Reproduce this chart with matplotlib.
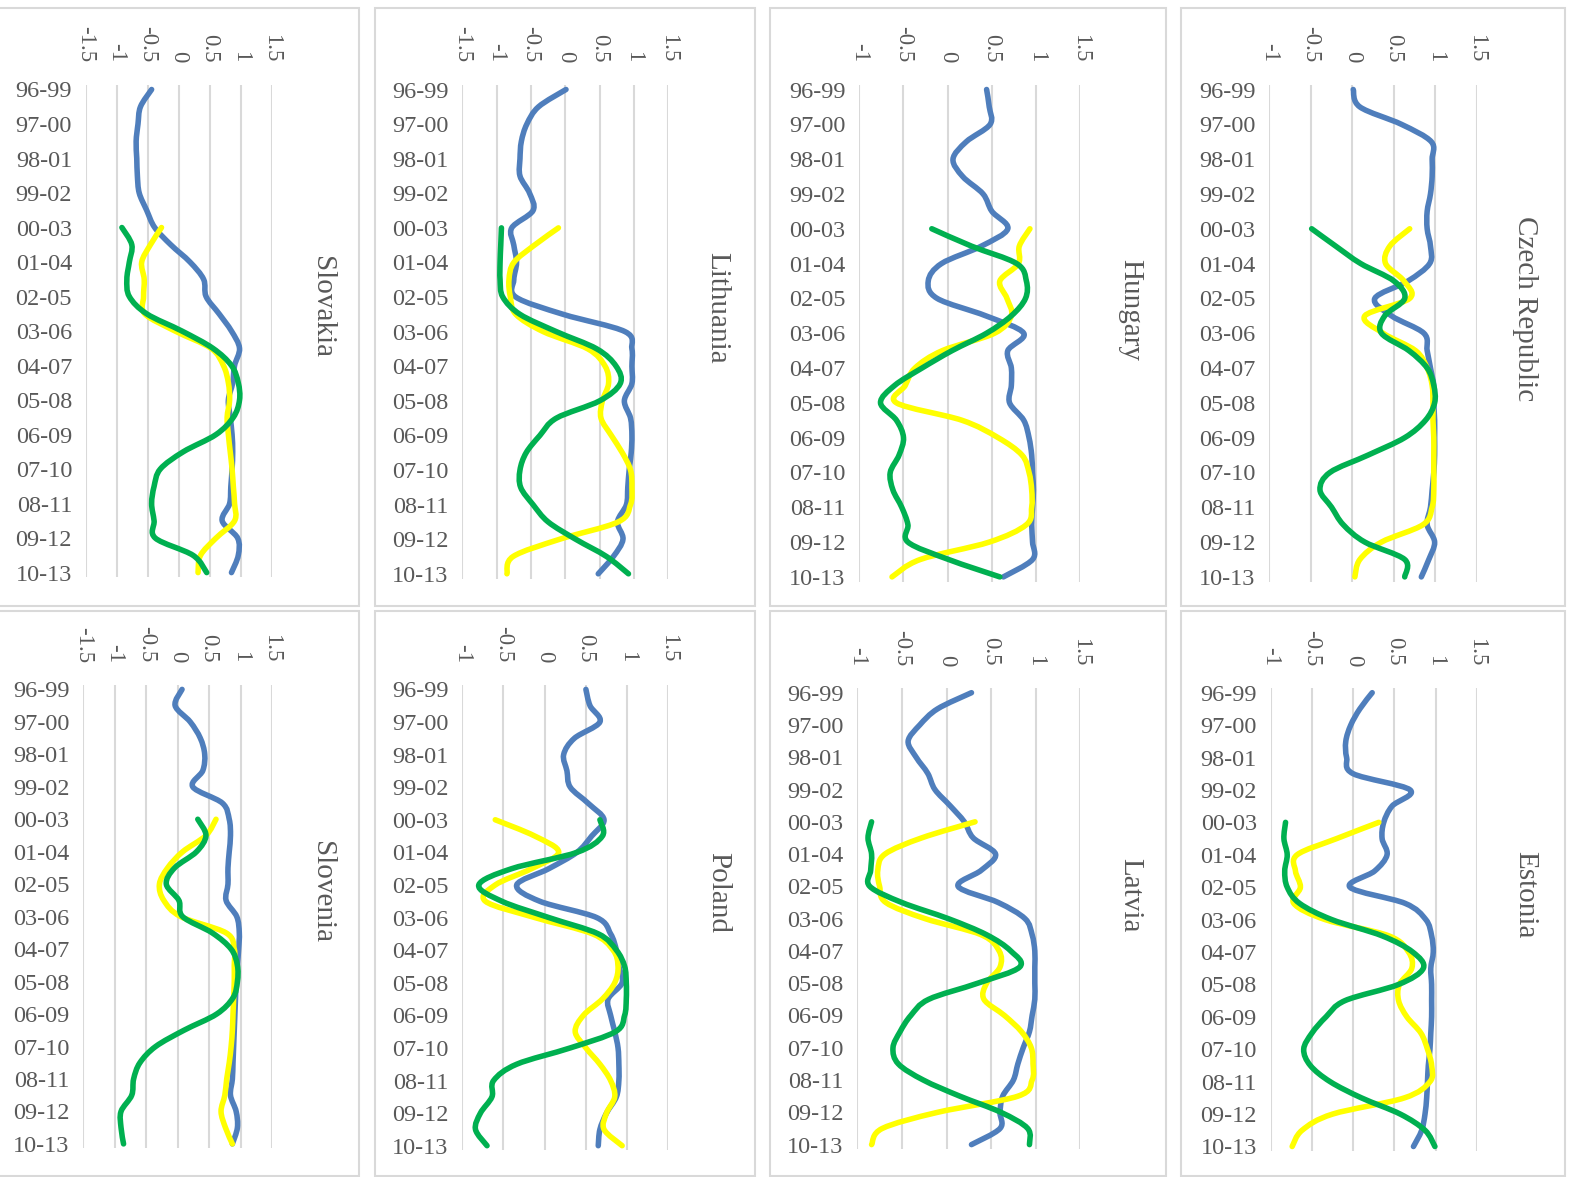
import numpy as np
import matplotlib.pyplot as plt
from matplotlib.patches import Rectangle, PathPatch
from matplotlib.path import Path

plt.rcParams['font.family'] = ['Liberation Serif', 'DejaVu Serif']
plt.rcParams['axes.unicode_minus'] = False

W, H = 1571, 1177

periods = ["96-99", "97-00", "98-01", "99-02", "00-03", "01-04", "02-05", "03-06",
           "04-07", "05-08", "06-09", "07-10", "08-11", "09-12", "10-13"]

# values read every half period; yellow and green series start at 00-03
steps_all = np.arange(0, 14.5, 0.5)
steps_late = steps_all[8:]

# ---- Czech Republic
cz_blue = [0.01, 0.09, 0.59, 0.95, 0.96, 0.96, 0.94, 0.9, 0.9, 0.94, 0.93, 0.67, 0.27, 0.47, 0.86,
           0.9, 0.94, 0.98, 0.98, 0.99, 0.99, 0.99, 0.98, 0.96, 0.94, 0.9, 0.99, 0.92, 0.83]
cz_yellow = [0.69, 0.45, 0.4, 0.62, 0.69, 0.15, 0.37, 0.76, 0.9, 0.96, 0.97, 0.97, 0.98, 0.98,
             0.98, 0.98, 0.96, 0.85, 0.35, 0.09, 0.03]
cz_green = [-0.49, -0.2, 0.1, 0.5, 0.63, 0.39, 0.35, 0.68, 0.9, 0.98, 0.99, 0.88, 0.63, 0.19,
            -0.27, -0.39, -0.25, -0.11, 0.15, 0.63, 0.63]

# ---- Hungary
hu_blue = [0.44, 0.47, 0.48, 0.21, 0.06, 0.17, 0.4, 0.5, 0.68, 0.38, -0.07, -0.22, -0.12, 0.43, 0.86,
           0.68, 0.72, 0.72, 0.7, 0.86, 0.92, 0.95, 0.96, 0.97, 0.96, 0.95, 0.96, 0.96, 0.63]
hu_yellow = [0.93, 0.81, 0.8, 0.59, 0.67, 0.72, 0.53, -0.06, -0.37, -0.48, -0.58, 0.16, 0.57, 0.84,
             0.92, 0.95, 0.95, 0.89, 0.47, -0.31, -0.63]
hu_green = [-0.18, 0.27, 0.78, 0.89, 0.88, 0.72, 0.44, 0.05, -0.29, -0.6, -0.76, -0.58, -0.5, -0.55,
            -0.65, -0.62, -0.52, -0.45, -0.45, 0.01, 0.59]

# ---- Lithuania
lt_blue = [0.01, -0.39, -0.56, -0.64, -0.66, -0.66, -0.52, -0.47, -0.78, -0.75, -0.71, -0.75, -0.72, -0.03,
           0.87, 0.97, 0.97, 0.97, 0.86, 0.95, 0.97, 0.96, 0.93, 0.91, 0.89, 0.76, 0.84, 0.7, 0.48]
lt_yellow = [-0.1, -0.45, -0.75, -0.82, -0.8, -0.72, -0.32, 0.33, 0.58, 0.63, 0.54, 0.52, 0.67, 0.83,
             0.95, 0.97, 0.95, 0.77, -0.08, -0.76, -0.85]
lt_green = [-0.93, -0.94, -0.95, -0.95, -0.91, -0.66, -0.13, 0.46, 0.74, 0.8, 0.5, -0.13, -0.37, -0.57,
            -0.66, -0.65, -0.47, -0.25, 0.15, 0.6, 0.92]

# ---- Slovakia
sk_blue = [-0.44, -0.62, -0.66, -0.69, -0.68, -0.67, -0.64, -0.52, -0.39, -0.13, 0.18, 0.4, 0.44, 0.65,
           0.85, 0.98, 0.9, 0.87, 0.8, 0.83, 0.86, 0.87, 0.86, 0.84, 0.82, 0.7, 0.95, 0.96, 0.85]
sk_yellow = [-0.28, -0.46, -0.6, -0.56, -0.57, -0.55, -0.06, 0.52, 0.72, 0.8, 0.82, 0.78, 0.8, 0.83,
             0.86, 0.88, 0.9, 0.9, 0.6, 0.35, 0.31]
sk_green = [-0.92, -0.76, -0.8, -0.84, -0.8, -0.52, 0.05, 0.55, 0.85, 0.96, 0.98, 0.88, 0.6, 0.07,
            -0.3, -0.4, -0.44, -0.4, -0.38, 0.23, 0.45]

# ---- Estonia
ee_blue = [0.23, 0.08, -0.03, -0.09, -0.08, 0.0, 0.69, 0.47, 0.37, 0.35, 0.41, 0.26, -0.04, 0.63, 0.88,
           0.95, 0.97, 0.94, 0.95, 0.95, 0.95, 0.94, 0.93, 0.91, 0.9, 0.89, 0.87, 0.83, 0.73]
ee_yellow = [0.31, -0.2, -0.68, -0.7, -0.64, -0.72, -0.34, 0.43, 0.67, 0.71, 0.56, 0.55, 0.65, 0.82,
             0.9, 0.95, 0.93, 0.62, -0.25, -0.62, -0.74]
ee_green = [-0.82, -0.84, -0.8, -0.83, -0.8, -0.65, -0.26, 0.35, 0.72, 0.85, 0.55, -0.1, -0.33, -0.5,
            -0.6, -0.52, -0.28, 0.1, 0.57, 0.87, 0.99]

# ---- Latvia
lv_blue = [0.28, -0.1, -0.3, -0.43, -0.34, -0.21, -0.13, 0.04, 0.2, 0.3, 0.55, 0.39, 0.13, 0.58, 0.88,
           0.96, 0.99, 0.99, 0.99, 0.99, 0.96, 0.93, 0.86, 0.8, 0.75, 0.63, 0.6, 0.6, 0.28]
lv_yellow = [0.32, -0.28, -0.69, -0.77, -0.75, -0.68, -0.24, 0.39, 0.59, 0.6, 0.45, 0.42, 0.65, 0.84,
             0.95, 0.97, 0.96, 0.8, -0.1, -0.72, -0.84]
lv_green = [-0.84, -0.88, -0.84, -0.85, -0.86, -0.5, 0.02, 0.45, 0.72, 0.82, 0.35, -0.2, -0.4, -0.52,
            -0.6, -0.54, -0.26, 0.15, 0.61, 0.91, 0.93]

# ---- Poland
pl_blue = [0.5, 0.55, 0.67, 0.36, 0.23, 0.27, 0.31, 0.53, 0.72, 0.57, 0.39, 0.05, -0.34, -0.06, 0.63,
           0.8, 0.87, 0.9, 0.94, 0.77, 0.8, 0.85, 0.89, 0.9, 0.9, 0.87, 0.75, 0.67, 0.65]
pl_yellow = [-0.6, -0.12, 0.17, -0.16, -0.6, -0.72, -0.12, 0.58, 0.83, 0.89, 0.85, 0.7, 0.47, 0.37,
             0.5, 0.67, 0.8, 0.85, 0.75, 0.72, 0.94]
pl_green = [0.67, 0.7, 0.39, -0.4, -0.8, -0.52, 0.05, 0.65, 0.87, 0.97, 0.99, 0.99, 0.97, 0.86,
            0.31, -0.34, -0.62, -0.64, -0.78, -0.84, -0.7]

# ---- Slovenia
si_blue = [0.07, -0.04, 0.2, 0.36, 0.43, 0.4, 0.24, 0.71, 0.82, 0.84, 0.82, 0.8, 0.8, 0.77, 0.94,
           0.98, 0.97, 0.95, 0.93, 0.92, 0.91, 0.9, 0.89, 0.88, 0.87, 0.84, 0.93, 0.95, 0.87]
si_yellow = [0.61, 0.45, 0.08, -0.16, -0.29, -0.22, 0.05, 0.77, 0.9, 0.9, 0.9, 0.89, 0.88, 0.87,
             0.85, 0.82, 0.78, 0.75, 0.69, 0.76, 0.87]
si_green = [0.32, 0.45, 0.3, -0.05, -0.18, 0.02, 0.08, 0.55, 0.85, 0.95, 0.95, 0.88, 0.62, 0.1,
            -0.35, -0.6, -0.7, -0.73, -0.9, -0.9, -0.86]

BLUE, YELLOW, GREEN = "#4F7EBC", "#FFFF00", "#00B050"
TEXT = "#595959"
GRID = "#D9D9D9"
LW = 4.0

# name, series, value range, plot box in px (left, right, first cat y, last cat y), title pos, frame
panels = [
    ("Slovakia", sk_blue, sk_yellow, sk_green, (-1.5, 1.5), (86, 271.7, 89.5, 572.6), (322, 307), (-2, 8.5, 359, 606)),
    ("Lithuania", lt_blue, lt_yellow, lt_green, (-1.5, 1.5), (462.3, 668.3, 89.5, 573.8), (717, 308), (375, 8.5, 755, 606)),
    ("Hungary", hu_blue, hu_yellow, hu_green, (-1, 1.5), (859.3, 1080.3, 89.5, 576.9), (1130, 310), (770, 8.5, 1166, 606)),
    ("Czech Republic", cz_blue, cz_yellow, cz_green, (-1, 1.5), (1269.3, 1477, 89.5, 576.9), (1525, 309), (1181, 8.5, 1565, 606)),
    ("Slovenia", si_blue, si_yellow, si_green, (-1.5, 1.5), (83.3, 272, 689.4, 1143.9), (322, 892), (-2, 611, 359, 1176)),
    ("Poland", pl_blue, pl_yellow, pl_green, (-1, 1.5), (462.3, 668.3, 689.4, 1145.7), (718, 893), (375, 611, 755, 1176)),
    ("Latvia", lv_blue, lv_yellow, lv_green, (-1, 1.5), (857.3, 1080.3, 692.7, 1144.6), (1130, 895), (770, 611, 1166, 1176)),
    ("Estonia", ee_blue, ee_yellow, ee_green, (-1, 1.5), (1270.7, 1477, 692.7, 1146.5), (1525, 895), (1181, 611, 1565, 1176)),
]


def smooth_line(ax, values, positions, color):
    """Excel-style smoothed line: Catmull-Rom curve through the data points."""
    pts = np.column_stack([values, positions])
    verts = [pts[0]]
    codes = [Path.MOVETO]
    n = len(pts)
    for i in range(n - 1):
        p0 = pts[i - 1] if i > 0 else pts[i]
        p1 = pts[i]
        p2 = pts[i + 1]
        p3 = pts[i + 2] if i + 2 < n else pts[i + 1]
        verts += [p1 + (p2 - p0) / 6, p2 - (p3 - p1) / 6, p2]
        codes += [Path.CURVE4] * 3
    ax.add_patch(PathPatch(Path(verts, codes), fill=False, ec=color, lw=LW,
                           capstyle="round", joinstyle="round"))


fig = plt.figure(figsize=(W / 100, H / 100), dpi=100)
fig.patch.set_facecolor("white")

pad = 0.14
for name, blue, yellow, green, (lo, hi), (xl, xr, yt, yb), (tx, ty), (bx0, by0, bx1, by1) in panels:
    # panel frame
    fig.add_artist(Rectangle((bx0 / W, 1 - by1 / H), (bx1 - bx0) / W, (by1 - by0) / H,
                             transform=fig.transFigure, fill=False, ec=GRID, lw=1.5))
    step = (yb - yt) / 14
    top = yt - pad * step
    bot = yb + pad * step
    ax = fig.add_axes([xl / W, 1 - bot / H, (xr - xl) / W, (bot - top) / H])

    smooth_line(ax, blue, steps_all, BLUE)
    smooth_line(ax, yellow, steps_late, YELLOW)
    smooth_line(ax, green, steps_late, GREEN)

    ax.set_xlim(lo, hi)
    ax.set_ylim(14 + pad, -pad)
    ticks = np.arange(lo, hi + 0.01, 0.5)
    ax.set_xticks(ticks)
    ax.set_xticklabels([f"{t:g}" for t in ticks])
    ax.xaxis.tick_top()
    ax.tick_params(axis="x", length=0, pad=16, labelsize=16.5, labelcolor=TEXT, labelrotation=-90)
    ax.set_yticks(range(len(periods)))
    ax.set_yticklabels(periods)
    ax.tick_params(axis="y", length=0, pad=10, labelsize=17.5, labelcolor=TEXT)
    ax.grid(axis="x", color=GRID, lw=1.5)
    ax.set_axisbelow(True)
    for s in ax.spines.values():
        s.set_visible(False)

    fig.text(tx / W, 1 - ty / H, name, rotation=-90, ha="center", va="center",
             fontsize=21, color=TEXT)

fig.savefig("out.png", dpi=100, facecolor="white")
